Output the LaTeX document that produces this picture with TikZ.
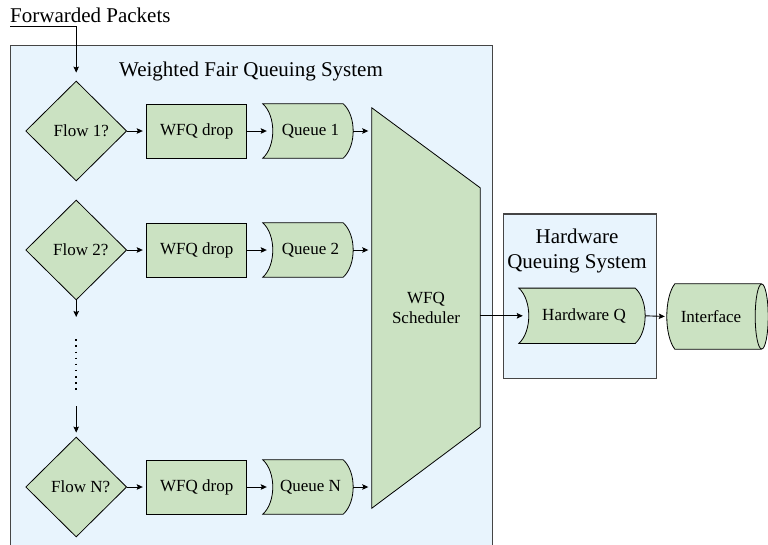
\documentclass[tikz,border=0pt]{standalone}
\usepackage{fontspec}
\setmainfont{Liberation Serif}
\usetikzlibrary{shapes.geometric,arrows.meta,calc}

\definecolor{sysblue}{HTML}{E8F4FD}
\definecolor{stagegreen}{HTML}{CBE2C2}
\definecolor{sysframe}{HTML}{454545}

% queue outline: concave left side, convex right side
\newcommand\queueoutline[1]{%
  \draw[stageline] (#1.north west) -- ($(#1.north east)+(-10,0)$)
    .. controls ($(#1.north east)+(3.3,12)$) and ($(#1.south east)+(3.3,-12)$) .. ($(#1.south east)+(-10,0)$)
    -- (#1.south west)
    .. controls ($(#1.south west)+(13.3,-12)$) and ($(#1.north west)+(13.3,12)$) .. cycle;}

\begin{document}
\begin{tikzpicture}[x=1pt,y=-1pt,
  smalltext/.style={font=\fontsize{17}{20}\selectfont},
  bigtext/.style={font=\fontsize{21}{25}\selectfont},
  system/.style={draw=sysframe, line width=1.4pt, fill=sysblue},
  stageline/.style={draw=black, line width=0.8pt, fill=stagegreen},
  decision/.style={diamond, aspect=1, stageline, minimum width=101pt,
    minimum height=100pt, inner sep=0pt, smalltext},
  dropbox/.style={rectangle, stageline, minimum width=100pt,
    minimum height=54pt, inner sep=0pt, smalltext},
  queuebox/.style={rectangle, minimum width=90pt, minimum height=54pt,
    inner sep=0pt, smalltext},
  flow/.style={draw=black, line width=0.9pt,
    -{Stealth[length=6pt,width=5.5pt,inset=1pt]}},
]
\clip (0,0) rectangle (768,544);

% system frames
\node[system, anchor=north west, minimum width=481.7pt, minimum height=520pt,
  inner sep=0pt] (wfqsys) at (10,45) {};
\node[system, anchor=north west, minimum width=153pt, minimum height=164.4pt,
  inner sep=0pt] (hwsys) at (502.7,213.3) {};

% labels
\node[bigtext, anchor=base west, inner sep=0pt] (fwd) at (10,22.7) {Forwarded Packets};
\node[bigtext, anchor=base, inner sep=0pt] (wfqtitle) at (251,76) {Weighted Fair Queuing System};
\node[bigtext, align=center, inner sep=0pt] (hwtitle) at (577,250.7) {Hardware\\Queuing System};

% classifier decisions
\node[decision] (flow1) at (76.2,131) {\hspace*{10pt}Flow 1?};
\node[decision] (flow2) at (76.2,250) {\hspace*{9pt}Flow 2?};
\node[decision] (flowN) at (76.2,487) {\hspace*{9pt}Flow N?};

% drop stages
\node[dropbox] (drop1) at (196.7,131) {WFQ drop};
\node[dropbox] (drop2) at (196.7,250) {WFQ drop};
\node[dropbox] (dropN) at (196.7,487) {WFQ drop};

% per-flow queues
\node[queuebox] (q1) at (308,131) {};
\node[queuebox] (q2) at (308,250) {};
\node[queuebox] (qN) at (308,487) {};
\queueoutline{q1}
\queueoutline{q2}
\queueoutline{qN}
\node[smalltext] at (q1.center) {\hspace*{5pt}Queue 1};
\node[smalltext] at (q2.center) {\hspace*{5pt}Queue 2};
\node[smalltext] at (qN.center) {\hspace*{5pt}Queue N};

% scheduler
\node[rectangle, minimum width=108pt, minimum height=400pt, inner sep=0pt] (sched) at (426,308) {};
\draw[stageline] (sched.north west) -- ($(sched.north east)+(0,80)$)
  -- ($(sched.south east)+(0,-81)$) -- (sched.south west) -- cycle;
\node[smalltext, align=center] at (sched.center) {WFQ\\Scheduler};

% hardware queue
\node[queuebox, minimum width=126pt, minimum height=55pt] (hwq) at (582,315.8) {};
\queueoutline{hwq}
\node[smalltext] at (hwq.center) {\hspace*{4pt}Hardware Q};

% interface cylinder
\node[rectangle, minimum width=88pt, minimum height=65pt, inner sep=0pt] (iface) at (711,316.5) {};
\fill[stagegreen] ($(iface.north west)+(8,0)$) -- ($(iface.north east)+(6.5,0)$)
  -- ($(iface.south east)+(6.5,0)$) -- ($(iface.south west)+(8,0)$)
  .. controls ($(iface.south west)+(-2.7,-14)$) and ($(iface.north west)+(-2.7,14)$) .. cycle;
\draw[line width=0.8pt] ($(iface.north east)+(6.5,0)$) -- ($(iface.north west)+(8,0)$)
  .. controls ($(iface.north west)+(-2.7,14)$) and ($(iface.south west)+(-2.7,-14)$) .. ($(iface.south west)+(8,0)$)
  -- ($(iface.south east)+(6.5,0)$);
\draw[stageline] ($(iface.east)+(6.5,0)$) ellipse [x radius=6.5, y radius=32.5];
\node[smalltext] at (iface.center) {Interface};

% connectors
\coordinate (fwdstart) at (10,26.7);
\draw[flow, shorten >=8pt] (fwdstart) -| (flow1.north);

\foreach \k in {1,2,N}{
  \draw[flow, shorten >=3.5pt] (flow\k.east) -- (drop\k.west);
  \draw[flow] (drop\k.east) -- ([xshift=4pt]q\k.west);
  \draw[flow, shorten >=3.5pt] (q\k.east) -- (q\k.east -| sched.west);
}

\coordinate (gaptop) at (76.2,317);
\coordinate (dotsa) at (76.2,339.3);
\coordinate (dotsb) at (76.2,390);
\coordinate (gapbot) at (76.2,406);
\draw[flow] (flow2.south) -- (gaptop);
\draw[line width=1.7pt, dash pattern=on 1.6pt off 4.5pt] (dotsa) -- (dotsb);
\draw[flow, shorten >=4pt] (gapbot) -- (flowN.north);

\draw[flow] (sched.east |- hwq.west) -- ([xshift=4pt]hwq.west);
\draw[flow, shorten >=2pt] (hwq.east) -- (iface.west);
\end{tikzpicture}
\end{document}
